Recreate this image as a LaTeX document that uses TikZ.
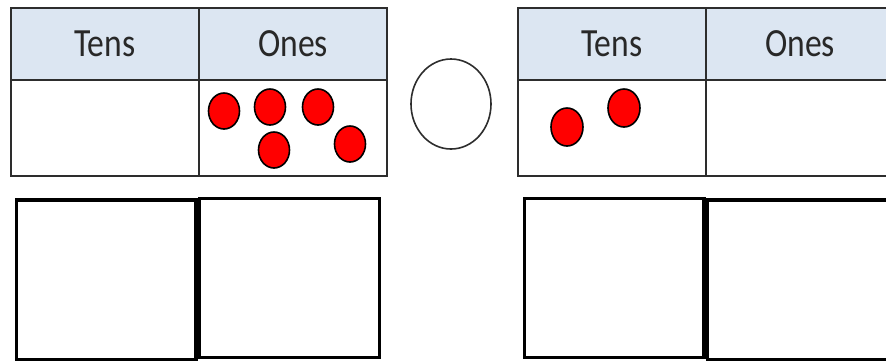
\documentclass[tikz,border=0pt]{standalone}
\usepackage{fontspec}
\setmainfont{Carlito}
\usepackage{graphicx}
\definecolor{headblue}{RGB}{220,230,242}
\definecolor{rulegray}{RGB}{45,45,45}
\definecolor{textgray}{RGB}{40,40,40}
\definecolor{counter}{RGB}{255,0,0}
\newcommand{\drawthick}{\draw[line width=3.6pt, line join=miter]}
\newcommand{\drawcounter}[4]{\draw[fill=counter, line width=1.6pt] (#1,#2) ellipse [x radius=#3pt, y radius=#4pt];}
\newcommand{\placetable}[2]{
    \fill[headblue] (#1,8) rectangle ++(376,72);
    \draw[rulegray, line width=2pt] (#1,8) rectangle ++(376,168);
    \draw[rulegray, line width=2pt] (#1,80) -- ++(376,0);
    \draw[rulegray, line width=2pt] (#1+188,8) -- ++(0,168);
    \node[label text] (tens#2) at (#1+94,44) {\scalebox{0.84}[1]{Tens}};
    \node[label text] (ones#2) at (#1+282,44) {\scalebox{0.84}[1]{Ones}};
}

\begin{document}
\begin{tikzpicture}[x=1pt, y=-1pt,
    label text/.style={text=textgray, inner sep=0pt, font=\fontsize{40}{48}\selectfont}]
\useasboundingbox (0,0) rectangle (886,360);
\clip (0,0) rectangle (886,360);
\placetable{11}{left}
\placetable{518}{right}
% counters in the ones of the first number
\drawcounter{224}{111}{15.5}{18}\drawcounter{270}{107}{15.5}{18}\drawcounter{318}{107}{15.5}{18}
\drawcounter{274}{150}{15.5}{18}\drawcounter{350}{144}{15.5}{18}
% counters in the tens of the second number
\drawcounter{567}{127}{16}{19}\drawcounter{624}{108}{16}{19}
\draw[rulegray, line width=1.6pt] (451,104) ellipse [x radius=40pt, y radius=45pt];
% answer boxes
\drawthick (16.5,200) rectangle (196,360);
\drawthick (199.5,198.5) rectangle (379.5,357.5);
\drawthick (524.5,198.5) rectangle (704,357.5);
\drawthick (707.5,200) rectangle (895,359.5);
\end{tikzpicture}
\end{document}
